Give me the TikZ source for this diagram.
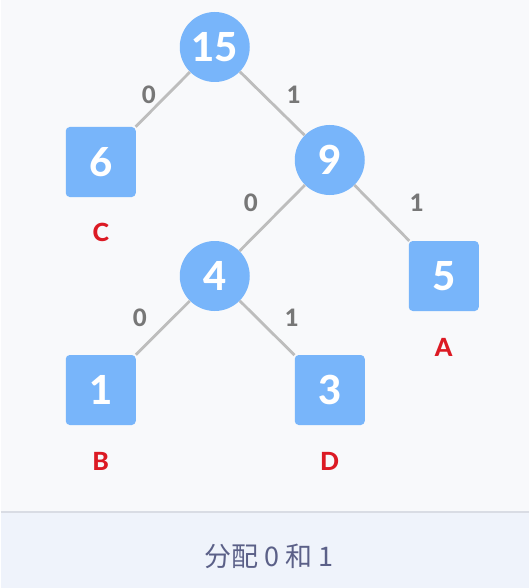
\documentclass[tikz,border=0pt]{standalone}
\usepackage{fontspec}
\setmainfont{Lato}[UprightFont=* Heavy]
\newfontfamily\cjk{Noto Sans CJK SC}
\usetikzlibrary{positioning}
\usepackage{xcolor}
\definecolor{nodeblue}{HTML}{78B5FA}
\definecolor{edgegray}{HTML}{BDBDBD}
\definecolor{bitgray}{HTML}{777777}
\definecolor{codered}{HTML}{DC1A24}
\definecolor{pagebg}{HTML}{F8F9FB}
\definecolor{bandbg}{HTML}{EFF3FB}
\definecolor{bandline}{HTML}{D9DCE4}
\definecolor{captext}{HTML}{5B6088}

\begin{document}
\begin{tikzpicture}[
    x=1pt,y=-1pt,
    inner/.style={circle,fill=nodeblue,minimum size=70pt,inner sep=0pt,text=white,font=\fontsize{40}{40}\selectfont},
    leaf/.style={rectangle,rounded corners=4pt,fill=nodeblue,minimum size=70pt,inner sep=0pt,text=white,font=\fontsize{40}{40}\selectfont},
    edge/.style={draw=edgegray,line width=2.8pt},
    bit/.style={text=bitgray,font=\fontsize{24}{24}\selectfont},
    code/.style={text=codered,font=\fontsize{25}{25}\selectfont}
]
% background
\fill[pagebg] (0,0) rectangle (528,512);
\fill[bandbg] (0,512) rectangle (528,588);
\draw[bandline,line width=1.5pt] (0,512) -- (528,512);
\useasboundingbox (0,0) rectangle (528,588);

\node[inner] (n15) at (214,47) {15};
\node[leaf]  (n6)  at (100,162) {6};
\node[inner] (n9)  at (329,160) {9};
\node[inner] (n4)  at (214,276) {4};
\node[leaf]  (n5)  at (443,276) {5};
\node[leaf]  (n1)  at (100,390) {1};
\node[leaf]  (n3)  at (329,390) {3};

\node[code] (lc) at (100,232) {C};
\node[code] (la) at (443,347) {A};
\node[code] (lb) at (100,461) {B};
\node[code] (ld) at (329,461) {D};

\draw[edge] (n15) -- (n6);
\draw[edge] (n15) -- (n9);
\draw[edge] (n9) -- (n4);
\draw[edge] (n9) -- (n5);
\draw[edge] (n4) -- (n1);
\draw[edge] (n4) -- (n3);

\node[bit] (b1) at (148,95) {0};
\node[bit] (b2) at (293,95) {1};
\node[bit] (b3) at (250,203) {0};
\node[bit] (b4) at (416,203) {1};
\node[bit] (b5) at (139,318) {0};
\node[bit] (b6) at (291,318) {1};

\node[text=captext,font=\cjk\fontsize{27}{27}\selectfont] (cap) at (268,556) {分配 0 和 1};
\end{tikzpicture}
\end{document}
